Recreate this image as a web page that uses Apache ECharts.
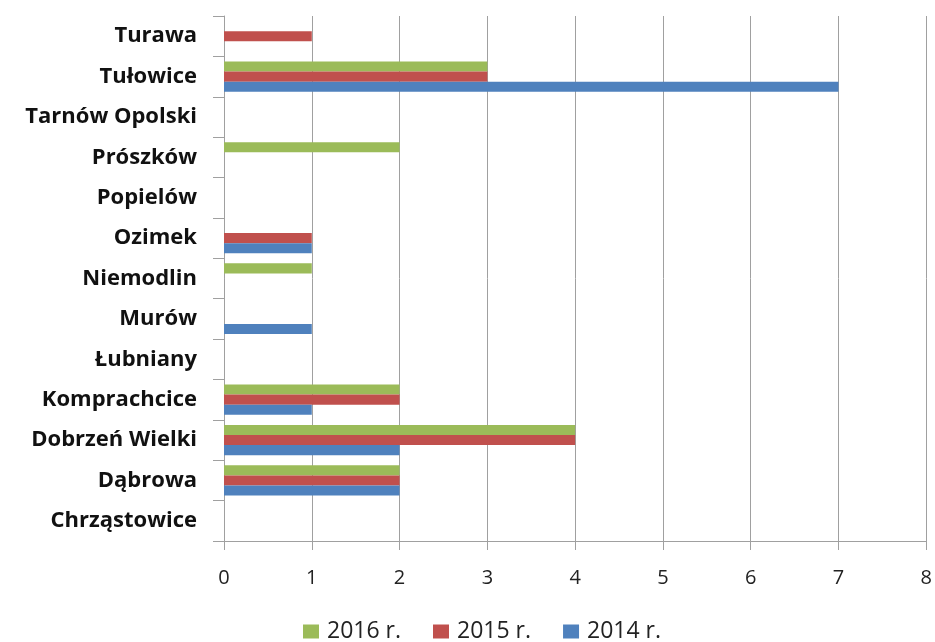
<!DOCTYPE html>
<html><head><meta charset="utf-8">
<script src="https://cdn.jsdelivr.net/npm/echarts@6/dist/echarts.min.js"></script>
<style>html,body{margin:0;padding:0;background:#fff}#c{width:935px;height:642px}</style>
</head><body><div id="c"></div>
<script>
const categories = ['Chrząstowice','Dąbrowa','Dobrzeń Wielki','Komprachcice','Łubniany','Murów','Niemodlin','Ozimek','Popielów','Prószków','Tarnów Opolski','Tułowice','Turawa'];
const values2014 = [0,2,2,1,0,1,0,1,0,0,0,7,0];
const values2015 = [0,2,4,2,0,0,0,1,0,0,0,3,1];
const values2016 = [0,2,4,2,0,0,1,0,0,2,0,3,0];
const xTicks = [0,1,2,3,4,5,6,7,8];
const seriesNames = ['2016 r.','2015 r.','2014 r.'];

const chart = echarts.init(document.getElementById('c'), null, {renderer:'canvas'});
const font = '"Open Sans", sans-serif';
chart.setOption({
  animation:false,
  grid:{left:224,right:8,top:16,bottom:101,containLabel:false},
  xAxis:{type:'value',min:xTicks[0],max:xTicks[xTicks.length-1],interval:1,
    axisLine:{show:true,lineStyle:{color:'#a0a0a0',width:1}},
    axisTick:{show:true,length:9,lineStyle:{color:'#a0a0a0'}},
    splitLine:{show:true,lineStyle:{color:'#a0a0a0',width:1}},
    axisLabel:{fontFamily:font,fontSize:20,color:'#222',margin:27}},
  yAxis:{type:'category',data:categories,
    axisLine:{show:true,lineStyle:{color:'#a0a0a0',width:1}},
    axisTick:{show:true,length:11,lineStyle:{color:'#a0a0a0'}},
    axisLabel:{fontFamily:font,fontSize:22,fontWeight:'bold',color:'#111',margin:27,padding:[4,0,0,0]}},
  legend:{data:seriesNames,top:620,left:303,itemWidth:16,itemHeight:14,itemGap:32,padding:0,
    icon:'rect',textStyle:{fontFamily:font,fontSize:23,color:'#222',padding:[0,0,0,3]}},
  series:[
    {name:seriesNames[0],type:'bar',data:values2016,itemStyle:{color:'#9BBB59'},barGap:'0%',barCategoryGap:'25%'},
    {name:seriesNames[1],type:'bar',data:values2015,itemStyle:{color:'#C0504D'},barGap:'0%',barCategoryGap:'25%'},
    {name:seriesNames[2],type:'bar',data:values2014,itemStyle:{color:'#4F81BD'},barGap:'0%',barCategoryGap:'25%'}
  ]
});
</script></body></html>
